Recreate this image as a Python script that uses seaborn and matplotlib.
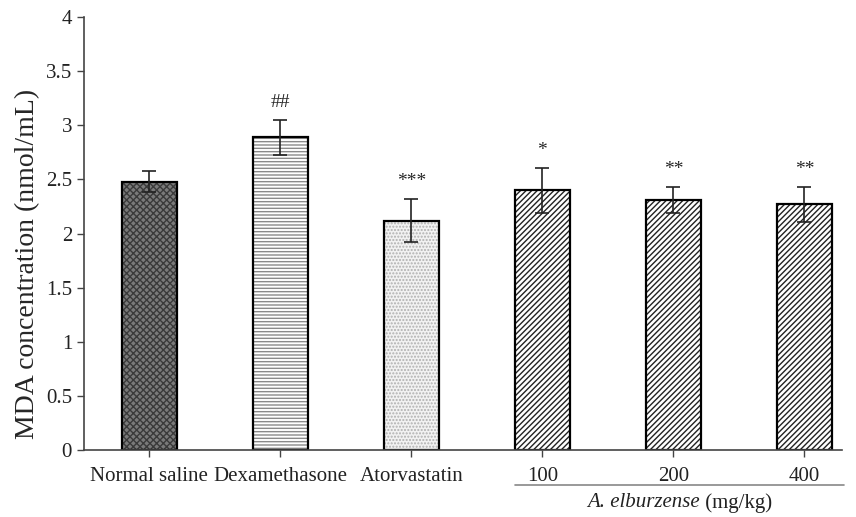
import pandas as pd
import matplotlib.pyplot as plt
import seaborn as sns

# Data
groups = ["Normal saline", "Dexamethasone", "Atorvastatin", "100", "200", "400"]
mda = [2.48, 2.89, 2.12, 2.40, 2.31, 2.27]
sem = [0.10, 0.16, 0.20, 0.21, 0.12, 0.16]
marks = ["", "##", "***", "*", "**", "**"]

df = pd.DataFrame({"group": groups, "mda": mda, "sem": sem})

sns.set_style("white")
plt.rcParams['font.family'] = ['Liberation Serif', 'DejaVu Serif']
plt.rcParams['hatch.linewidth'] = 1.0

fig = plt.figure(figsize=(8.56, 5.17), dpi=100)
ax = fig.add_axes([0.098, 0.1296, 0.886, 0.8374])

# fills with hatch (hatch color comes from edgecolor)
sns.barplot(data=df, x="group", y="mda", order=groups, errorbar=None,
            width=0.42, color="white", linewidth=0, ax=ax)
styles = [("#7a7a7a", "#3a3a3a", "xxxxx"),
          ("white", "#8a8a8a", "-----"),
          ("#f2f2f2", "#b0b0b0", "....."),
          ("white", "#222222", "//////"),
          ("white", "#222222", "//////"),
          ("white", "#222222", "//////")]
for p, (fc, hc, h) in zip(ax.patches, styles):
    p.set_facecolor(fc)
    p.set_edgecolor(hc)
    p.set_hatch(h)
    p.set_linewidth(0)

# outlines on top
sns.barplot(data=df, x="group", y="mda", order=groups, errorbar=None,
            width=0.42, fill=False, edgecolor="black", linewidth=1.6, ax=ax)

ax.errorbar(range(len(groups)), df["mda"], yerr=df["sem"], fmt="none",
            ecolor="#222222", elinewidth=1.2, capsize=5, capthick=1.2)

for i, (m, s, t) in enumerate(zip(mda, sem, marks)):
    if t:
        ax.text(i, m + s + 0.08, t, ha="center", va="bottom", fontsize=14)

ax.set_xlim(-0.5, 5.29)
ax.set_ylim(0, 4)
ax.set_yticks([0, 0.5, 1, 1.5, 2, 2.5, 3, 3.5, 4])
ax.set_yticklabels(["0", "0.5", "1", "1.5", "2", "2.5", "3", "3.5", "4"])
ax.set_xlabel("")
ax.set_ylabel("MDA concentration (nmol/mL)", fontsize=20)
ax.yaxis.set_label_coords(-0.058, 0.43)
ax.tick_params(axis="both", labelsize=15, direction="out", length=5,
               width=1, color="#444444", labelcolor="#222222",
               left=True, bottom=True)
ax.tick_params(axis="x", pad=7)
for s in ["top", "right"]:
    ax.spines[s].set_visible(False)
for s in ["left", "bottom"]:
    ax.spines[s].set_color("#444444")
    ax.spines[s].set_linewidth(1.2)

# group underline and label for the extract doses
ax.plot([2.79, 5.3], [-0.325, -0.325], color="#888888", lw=1.2,
        clip_on=False)
ax.text(4.2, -0.40, "A. elburzense", ha="right", va="top",
        fontsize=15, style="italic", color="#222222")
ax.text(4.2, -0.40, " (mg/kg)", ha="left", va="top",
        fontsize=15, color="#222222")

fig.savefig("out.png", dpi=100)
